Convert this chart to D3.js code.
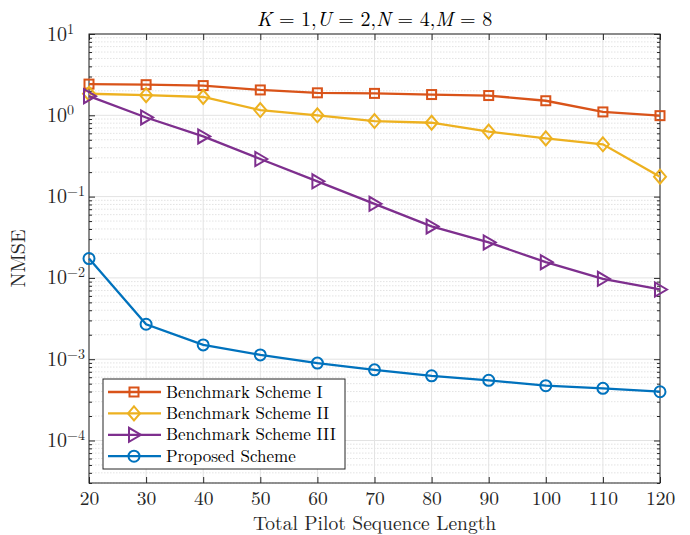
<!DOCTYPE html>
<html>
<head>
<meta charset="utf-8">
<script src="https://cdn.jsdelivr.net/npm/d3@7"></script>
<style>
  body { margin: 0; background: #fff; }
  svg, svg text { font-family: "Latin Modern Roman", "CMU Serif", "DejaVu Serif", serif; }
</style>
</head>
<body>
<svg id="chart" width="690" height="535"></svg>
<script>
const margin = { top: 34, right: 30, bottom: 52, left: 89 };
const width = 690 - margin.left - margin.right;
const height = 535 - margin.top - margin.bottom;

const pilotLength = [20, 30, 40, 50, 60, 70, 80, 90, 100, 110, 120];
const benchI = [2.42, 2.38, 2.32, 2.05, 1.89, 1.86, 1.80, 1.75, 1.51, 1.10, 0.99];
const benchII = [1.84, 1.77, 1.68, 1.16, 1.0, 0.85, 0.81, 0.63, 0.52, 0.44, 0.176];
const benchIII = [1.72, 0.94, 0.55, 0.29, 0.154, 0.0814, 0.043, 0.0273, 0.0156, 0.00975, 0.0072];
const proposed = [0.0173, 0.00269, 0.0015, 0.00113, 0.000896, 0.00074, 0.000625, 0.00055, 0.000472, 0.000438, 0.000398];

const series = [
  { name: "Benchmark Scheme I", values: benchI, color: "#D95319", marker: "square" },
  { name: "Benchmark Scheme II", values: benchII, color: "#EDB120", marker: "diamond" },
  { name: "Benchmark Scheme III", values: benchIII, color: "#7E2F8E", marker: "triangle" },
  { name: "Proposed Scheme", values: proposed, color: "#0072BD", marker: "circle" }
];

const root = d3.select("#chart");
const svg = root.append("g")
  .attr("transform", `translate(${margin.left},${margin.top})`);

const x = d3.scaleLinear().domain([20, 120]).range([0, width]);
const y = d3.scaleLog().domain([3e-5, 10]).range([height, 0]);

const majorY = [1e-4, 1e-3, 1e-2, 1e-1, 1, 10];
const minorY = [];
for (let e = -5; e <= 0; e++) {
  for (let m = 2; m <= 9; m++) {
    const v = m * Math.pow(10, e);
    if (v >= 3e-5 && v < 10) minorY.push(v);
  }
}

// grid
svg.append("g").selectAll("line")
  .data(minorY)
  .join("line")
  .attr("x1", 0).attr("x2", width)
  .attr("y1", d => y(d)).attr("y2", d => y(d))
  .attr("stroke", "#dcdcdc")
  .attr("stroke-width", 0.8)
  .attr("stroke-dasharray", "1.5,1.5");

svg.append("g").selectAll("line")
  .data(majorY)
  .join("line")
  .attr("x1", 0).attr("x2", width)
  .attr("y1", d => y(d)).attr("y2", d => y(d))
  .attr("stroke", "#e3e3e3")
  .attr("stroke-width", 1);

svg.append("g").selectAll("line")
  .data(pilotLength)
  .join("line")
  .attr("x1", d => x(d)).attr("x2", d => x(d))
  .attr("y1", 0).attr("y2", height)
  .attr("stroke", "#e3e3e3")
  .attr("stroke-width", 1);

// axes with inward ticks
function styleAxis(g) {
  g.attr("font-family", null).attr("font-size", null);
  g.select(".domain").remove();
  g.selectAll("line").attr("stroke", "#262626");
}

svg.append("g")
  .attr("transform", `translate(0,${height})`)
  .call(d3.axisBottom(x).tickValues(pilotLength).tickSize(-6).tickPadding(8))
  .call(styleAxis)
  .selectAll("text")
  .attr("font-size", 19.5)
  .attr("fill", "#262626");

svg.append("g")
  .call(d3.axisTop(x).tickValues(pilotLength).tickSize(-6).tickFormat(""))
  .call(styleAxis);

svg.append("g")
  .call(d3.axisLeft(y).tickValues(majorY).tickSize(-6).tickFormat(""))
  .call(styleAxis);
svg.append("g")
  .call(d3.axisLeft(y).tickValues(minorY).tickSize(-3).tickFormat(""))
  .call(styleAxis);
svg.append("g")
  .attr("transform", `translate(${width},0)`)
  .call(d3.axisRight(y).tickValues(majorY).tickSize(-6).tickFormat(""))
  .call(styleAxis);
svg.append("g")
  .attr("transform", `translate(${width},0)`)
  .call(d3.axisRight(y).tickValues(minorY).tickSize(-3).tickFormat(""))
  .call(styleAxis);

// y tick labels 10^e
svg.append("g").selectAll("text")
  .data(majorY)
  .join("text")
  .attr("x", -22)
  .attr("y", d => y(d) + 6.5)
  .attr("text-anchor", "end")
  .attr("font-size", 20)
  .attr("fill", "#262626")
  .text("10");
svg.append("g").selectAll("text")
  .data(majorY)
  .join("text")
  .attr("x", -22)
  .attr("y", d => y(d) - 0.5)
  .attr("text-anchor", "start")
  .attr("font-size", 14)
  .attr("fill", "#262626")
  .text(d => {
    const e = Math.round(Math.log10(d));
    return e < 0 ? "\u2212" + (-e) : String(e);
  });

// box
svg.append("rect")
  .attr("width", width).attr("height", height)
  .attr("fill", "none")
  .attr("stroke", "#262626")
  .attr("stroke-width", 1);

// markers
function drawMarker(sel, type, color) {
  if (type === "square") {
    sel.append("rect").attr("x", -4.5).attr("y", -4.5).attr("width", 9).attr("height", 9);
  } else if (type === "diamond") {
    sel.append("path").attr("d", "M0,-7L6,0L0,7L-6,0Z");
  } else if (type === "triangle") {
    sel.append("path").attr("d", "M7,0L-5,-7L-5,7Z");
  } else {
    sel.append("circle").attr("r", 5.5);
  }
  sel.selectAll("*")
    .attr("fill", "none")
    .attr("stroke", color)
    .attr("stroke-width", 2);
}

const line = d3.line()
  .x((d, i) => x(pilotLength[i]))
  .y(d => y(d));

series.forEach(s => {
  svg.append("path")
    .datum(s.values)
    .attr("d", line)
    .attr("fill", "none")
    .attr("stroke", s.color)
    .attr("stroke-width", 2.3);

  svg.append("g").selectAll("g")
    .data(s.values)
    .join("g")
    .attr("transform", (d, i) => `translate(${x(pilotLength[i])},${y(d)})`)
    .each(function () { drawMarker(d3.select(this), s.marker, s.color); });
});

// legend
const legend = svg.append("g").attr("transform", "translate(14,345)");
legend.append("rect")
  .attr("width", 242).attr("height", 90)
  .attr("fill", "#fff")
  .attr("stroke", "#262626")
  .attr("stroke-width", 1);
series.forEach((s, i) => {
  const row = legend.append("g").attr("transform", `translate(0,${13 + i * 21.4})`);
  row.append("line")
    .attr("x1", 5).attr("x2", 58)
    .attr("stroke", s.color)
    .attr("stroke-width", 2.3);
  const m = row.append("g").attr("transform", "translate(31,0)");
  drawMarker(m, s.marker, s.color);
  row.append("text")
    .attr("x", 63).attr("y", 5.5)
    .attr("font-size", 17)
    .attr("fill", "#000")
    .text(s.name);
});

// labels
root.append("text")
  .attr("x", margin.left + width / 2)
  .attr("y", 530)
  .attr("text-anchor", "middle")
  .attr("font-size", 19.5)
  .attr("fill", "#262626")
  .text("Total Pilot Sequence Length");

root.append("text")
  .attr("transform", `translate(25,${margin.top + height / 2}) rotate(-90)`)
  .attr("text-anchor", "middle")
  .attr("font-size", 20)
  .attr("fill", "#262626")
  .text("NMSE");

const title = root.append("text")
  .attr("x", margin.left + width / 2)
  .attr("y", 26)
  .attr("text-anchor", "middle")
  .attr("font-size", 20)
  .attr("fill", "#000");
[["K", true], [" = 1,", false], ["U", true], [" = 2,", false],
 ["N", true], [" = 4,", false], ["M", true], [" = 8", false]].forEach(([t, it]) => {
  title.append("tspan").attr("font-style", it ? "italic" : "normal").text(t);
});
</script>
</body>
</html>
